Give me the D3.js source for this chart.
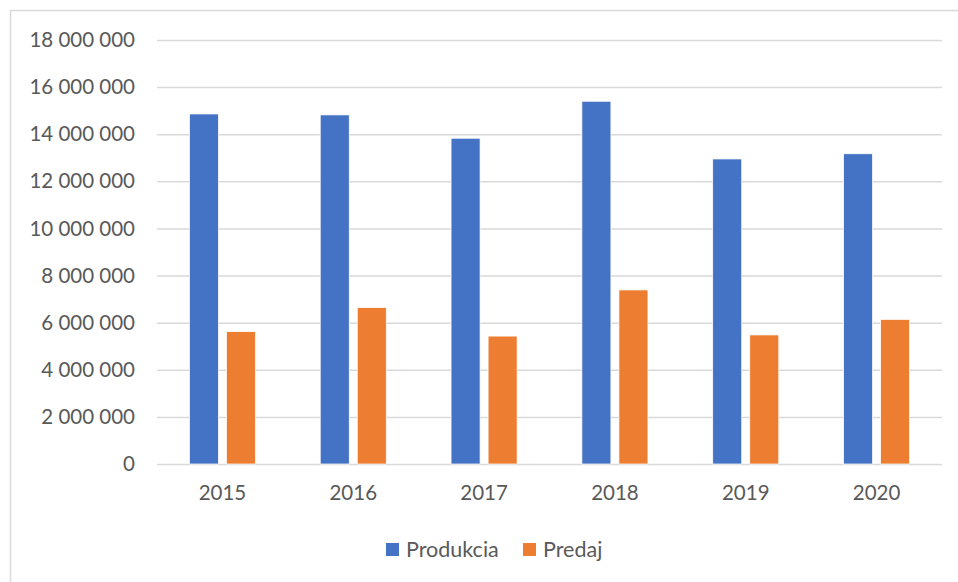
<!DOCTYPE html>
<html>
<head>
<meta charset="utf-8">
<script src="https://cdn.jsdelivr.net/npm/d3@7"></script>
<style>
  body { margin: 0; background: #fff; }
  text { font-family: Lato, "Open Sans", sans-serif; fill: #595959; }
</style>
</head>
<body>
<svg id="chart"></svg>
<script>
// Chart data
var years = ["2015", "2016", "2017", "2018", "2019", "2020"];
var seriesNames = ["Produkcia", "Predaj"];
var produkcia = [14860000, 14820000, 13830000, 15400000, 12950000, 13170000];
var predaj = [5620000, 6640000, 5430000, 7390000, 5480000, 6140000];
var yTicks = [0, 2000000, 4000000, 6000000, 8000000, 10000000, 12000000, 14000000, 16000000, 18000000];
var colors = ["#4472C4", "#ED7D31"];

var width = 958, height = 582;
var margin = { top: 40, right: 16, bottom: 118, left: 157 };
var plotW = width - margin.left - margin.right,
    plotH = height - margin.top - margin.bottom;

var svg = d3.select("#chart")
    .attr("width", width)
    .attr("height", height);

// chart area border
svg.append("rect")
    .attr("x", 10.5).attr("y", 10.5)
    .attr("width", 1000).attr("height", 1000)
    .attr("fill", "none")
    .attr("stroke", "#d9d9d9")
    .attr("stroke-width", 1.5);

var g = svg.append("g")
    .attr("transform", "translate(" + margin.left + "," + margin.top + ")");

// Scales
var x0 = d3.scaleBand()
    .domain(years)
    .range([0, plotW])
    .paddingInner(0.495)
    .paddingOuter(0.2475);

var x1 = d3.scaleBand()
    .domain(seriesNames)
    .range([0, x0.bandwidth()])
    .paddingInner(0.216);

var y = d3.scaleLinear()
    .domain([0, 18000000])
    .range([plotH, 0]);

var fmt = function(d) { return d3.format(",")(d).replace(/,/g, "\u00a0"); };

// Gridlines + y labels
var yAxis = g.append("g")
    .call(d3.axisLeft(y).tickValues(yTicks).tickSize(-plotW).tickPadding(22).tickFormat(fmt));
yAxis.select(".domain").remove();
yAxis.selectAll(".tick line")
    .attr("stroke", "#d9d9d9")
    .attr("stroke-width", 1.5);
yAxis.selectAll(".tick text")
    .style("font-family", "Lato, 'Open Sans', sans-serif")
    .style("font-size", "20.5px")
    .attr("fill", "#595959");

// x labels
var xAxis = g.append("g")
    .attr("transform", "translate(0," + plotH + ")")
    .call(d3.axisBottom(x0).tickSize(0).tickPadding(21));
xAxis.select(".domain").remove();
xAxis.selectAll(".tick text")
    .style("font-family", "Lato, 'Open Sans', sans-serif")
    .style("font-size", "20.5px")
    .attr("fill", "#595959");

// Bars
var rows = years.map(function(yr, i) {
    return { year: yr, values: [
        { key: seriesNames[0], value: produkcia[i], color: colors[0] },
        { key: seriesNames[1], value: predaj[i], color: colors[1] }
    ] };
});

g.selectAll(".year")
    .data(rows)
    .enter().append("g")
    .attr("class", "year")
    .attr("transform", function(d) { return "translate(" + x0(d.year) + ",0)"; })
    .selectAll("rect")
    .data(function(d) { return d.values; })
    .enter().append("rect")
    .attr("x", function(d) { return x1(d.key); })
    .attr("y", function(d) { return y(d.value); })
    .attr("width", x1.bandwidth())
    .attr("height", function(d) { return plotH - y(d.value); })
    .attr("fill", function(d) { return d.color; })
    .attr("stroke", "#fff")
    .attr("stroke-width", 0.75);

// Legend
var legend = svg.append("g").attr("transform", "translate(386,543)");
var legendX = [0, 137];
seriesNames.forEach(function(name, i) {
    var item = legend.append("g").attr("transform", "translate(" + legendX[i] + ",0)");
    item.append("rect")
        .attr("width", 13).attr("height", 13)
        .attr("fill", colors[i]);
    item.append("text")
        .attr("x", 20).attr("y", 14)
        .style("font-size", "21.5px")
        .text(name);
});
</script>
</body>
</html>
